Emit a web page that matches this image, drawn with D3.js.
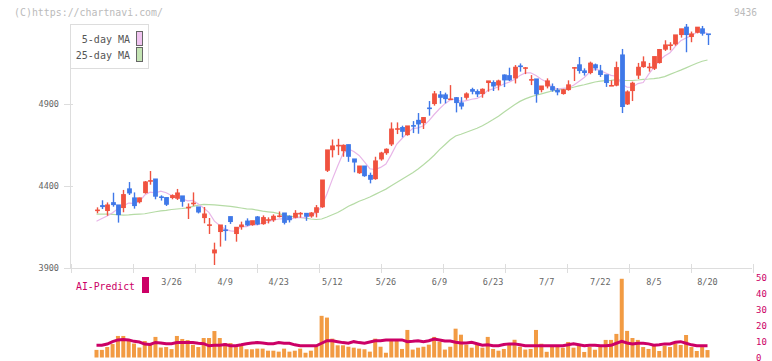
<!DOCTYPE html>
<html>
<head>
<meta charset="utf-8">
<script src="https://cdn.jsdelivr.net/npm/d3@7"></script>
<style>
body { margin: 0; background: #fff; }
svg { display: block; }
text { font-family: "DejaVu Sans Mono", monospace; }
</style>
</head>
<body>
<div id="chart"></div>
<script>
// daily candles (oldest first)
var opens = [4252,4281,4245,4299,4285,4263,4383,4328,4299,4354,4423,4443,4334,4330,4324,4320,4340,4269,4292,4273,
  4202,4162,3987,4117,4133,4214,4105,4147,4187,4159,4212,4165,4187,4189,4216,4236,4216,4204,4232,4234,
  4212,4234,4268,4490,4615,4646,4609,4652,4565,4475,4522,4465,4439,4559,4597,4650,4745,4756,4707,4768,
  4800,4780,4875,4896,4955,4955,4928,4938,4906,4934,4987,4975,4957,5024,5030,5009,5076,5072,5052,5131,
  5118,5040,5052,4981,5003,5005,4983,4957,4981,5119,5138,5101,5085,5138,5101,5077,5011,5008,5198,4894,
  4975,5069,5121,5122,5111,5146,5227,5257,5259,5316,5367,5304,5330,5357,5326];
var highs = [4271,4314,4301,4360,4285,4377,4425,4362,4330,4431,4492,4443,4344,4330,4350,4383,4340,4295,4362,4273,
  4273,4206,4056,4163,4163,4214,4149,4184,4204,4189,4218,4222,4210,4228,4246,4236,4222,4254,4242,4234,
  4242,4285,4437,4620,4684,4688,4654,4652,4565,4522,4522,4482,4579,4609,4630,4788,4788,4768,4766,4796,
  4845,4821,4918,4979,4979,4969,5015,4942,4942,4971,4999,4989,4995,5040,5044,5048,5080,5121,5137,5147,
  5125,5076,5052,5009,5056,5025,4997,4992,5044,5125,5186,5117,5158,5146,5138,5077,5044,5158,5235,4983,
  5036,5150,5190,5150,5188,5235,5288,5276,5320,5357,5387,5341,5367,5375,5326];
var lows = [4235,4261,4220,4275,4178,4241,4346,4263,4295,4354,4409,4320,4312,4279,4320,4316,4275,4200,4280,4234,
  4174,4109,3920,4032,4068,4170,4062,4135,4157,4159,4163,4165,4173,4183,4210,4167,4179,4204,4208,4189,
  4208,4210,4268,4486,4575,4589,4579,4548,4484,4475,4457,4417,4439,4555,4591,4644,4717,4697,4707,4723,
  4719,4748,4829,4890,4902,4904,4926,4849,4867,4926,4959,4942,4938,4975,4979,4983,5003,5040,5025,5097,
  5082,5015,4908,4971,4995,4975,4953,4957,4981,5040,5085,5073,5081,5103,5065,5004,5011,5008,4845,4894,
  4918,5052,5121,5097,5107,5146,5223,5227,5255,5304,5215,5276,5330,5316,5259];
var closes = [4254,4269,4285,4281,4220,4348,4352,4275,4328,4425,4433,4332,4326,4283,4342,4358,4301,4271,4296,4236,
  4230,4164,4011,4163,4123,4178,4149,4163,4157,4189,4163,4208,4195,4216,4218,4173,4189,4234,4234,4210,
  4236,4268,4437,4620,4644,4648,4648,4575,4540,4522,4457,4435,4553,4601,4624,4747,4749,4727,4766,4760,
  4772,4817,4871,4961,4934,4926,4930,4902,4881,4961,4971,4955,4989,5040,5003,5040,5040,5040,5123,5121,
  5120,5048,4955,5009,5040,4979,4967,4986,5016,5121,5097,5085,5148,5113,5073,5024,5012,5121,4878,4973,
  5026,5123,5156,5124,5188,5231,5259,5259,5320,5357,5316,5326,5367,5324,5316];
var ma5 = [4186,4203,4218,4238,4262,4281,4297,4295,4305,4346,4363,4359,4369,4360,4343,4328,4322,4311,4314,4292,
  4267,4239,4187,4161,4138,4128,4125,4155,4154,4167,4164,4176,4182,4194,4200,4202,4198,4206,4210,4208,
  4221,4236,4277,4354,4441,4523,4599,4627,4611,4587,4548,4506,4501,4514,4534,4592,4655,4690,4723,4750,
  4755,4768,4797,4836,4871,4902,4924,4931,4915,4920,4929,4934,4951,4983,4992,5005,5022,5033,5049,5073,
  5089,5090,5073,5051,5034,5006,4990,4996,4998,5014,5037,5061,5093,5113,5103,5089,5074,5069,5022,5002,
  5002,5024,5031,5080,5123,5164,5192,5212,5251,5285,5302,5316,5337,5338,5330];
var ma25 = [4230,4230,4230,4228,4226,4224,4225,4228,4230,4232,4238,4244,4249,4253,4258,4261,4264,4268,4277,4285,
  4289,4288,4286,4283,4280,4277,4272,4267,4262,4260,4254,4248,4244,4240,4233,4224,4218,4213,4210,4205,
  4200,4197,4200,4212,4226,4240,4258,4278,4292,4308,4320,4334,4350,4366,4382,4402,4422,4442,4462,4482,
  4505,4530,4558,4588,4622,4652,4682,4705,4716,4728,4740,4752,4768,4786,4805,4826,4850,4872,4895,4916,
  4931,4943,4953,4962,4971,4979,4985,4990,4994,5002,5010,5017,5026,5034,5039,5042,5044,5048,5044,5043,
  5043,5046,5050,5052,5055,5059,5067,5080,5093,5106,5120,5134,5148,5160,5168];
var volume = [4.8,4.8,6.6,8.5,13.6,13.6,11.7,8.8,6.3,10.4,8.8,13.0,6.3,6.6,5.3,13.6,11.7,11.0,8.0,6.6,
  12.3,12.3,16.7,12.3,9.1,9.1,6.6,7.5,5.2,5.2,5.6,5.6,4.3,4.3,3.7,5.6,3.7,4.3,5.6,3.0,
  4.3,7.7,26.3,25.2,11.9,7.7,7.7,6.8,6.2,5.6,5.2,3.7,11.9,6.8,3.0,10.6,10.6,5.4,17.4,5.0,
  6.2,6.8,8.1,13.0,10.0,5.0,6.8,18.2,14.4,8.1,6.2,8.1,6.2,13.0,5.4,4.3,5.4,8.1,11.2,6.8,
  5.0,5.4,17.4,8.7,3.6,6.8,7.7,6.2,9.8,6.2,7.9,3.5,6.6,4.9,6.6,11.1,11.1,14.9,49.7,16.8,
  12.3,11.1,6.6,5.4,7.5,4.1,7.5,6.6,8.8,7.9,14.2,6.6,4.1,6.6,4.7];
var aiPredict = [7.7,7.7,8.5,10.0,11.1,11.4,11.1,10.2,9.8,8.5,8.2,9.5,9.2,8.7,8.7,9.4,9.4,9.4,9.4,9.0,
  8.7,7.4,7.7,7.7,8.2,7.4,7.4,8.0,8.7,9.2,9.4,9.2,8.7,8.7,9.4,9.0,9.0,8.0,7.4,7.4,
  7.4,7.4,9.0,10.6,10.6,10.0,9.4,9.0,10.0,9.4,9.0,9.8,10.6,10.6,11.1,11.1,11.1,11.1,10.0,10.2,
  10.6,10.0,10.6,11.7,11.1,10.4,10.4,9.6,9.2,9.2,9.6,8.7,7.7,8.0,7.4,7.4,8.2,8.6,8.6,8.0,
  7.4,7.4,7.4,7.4,7.4,7.4,7.4,7.4,8.0,8.6,8.0,7.4,7.7,7.7,7.4,7.4,7.7,9.0,10.2,9.2,
  8.6,9.0,9.0,8.6,7.7,8.0,8.6,8.6,9.6,10.0,9.0,8.0,7.4,7.4,7.4];
var dateLabels = ["3/26","4/9","4/23","5/12","5/26","6/9","6/23","7/7","7/22","8/5","8/20"];
var priceTicks = [3900, 4400, 4900];
var volTicks = [0, 10, 20, 30, 40, 50];

var width = 772, height = 361;
var n = closes.length;
var UP = "#f0523f", DOWN = "#3f78e8";

var svg = d3.select("#chart").append("svg")
  .attr("width", width)
  .attr("height", height);

var x = d3.scaleLinear().domain([0, n - 1]).range([96.5, 707.5]);
var y = d3.scaleLinear().domain([3900, 4900]).range([268.3, 104]);
var yv = d3.scaleLinear().domain([0, 50]).range([357.5, 278.3]);

// header texts
svg.append("text").attr("x", 14).attr("y", 16)
  .attr("font-size", 11).attr("fill", "#bbb")
  .attr("textLength", 149).attr("lengthAdjust", "spacingAndGlyphs")
  .text("(C)https://chartnavi.com/");
svg.append("text").attr("x", 757).attr("y", 16)
  .attr("font-size", 11).attr("fill", "#bbb").attr("text-anchor", "end")
  .attr("textLength", 23).attr("lengthAdjust", "spacingAndGlyphs")
  .text("9436");

// frame: left axis + bottom axis
svg.append("line").attr("x1", 70.5).attr("x2", 70.5).attr("y1", 24).attr("y2", 268.5)
  .attr("stroke", "#ddd");
svg.append("line").attr("x1", 64).attr("x2", 752).attr("y1", 268.5).attr("y2", 268.5)
  .attr("stroke", "#ddd");

// bottom ticks, evenly spread
var tickScale = d3.scaleLinear().domain([0, 11]).range([70.5, 752.5]);
svg.selectAll(".xtick").data(d3.range(12)).enter().append("line")
  .attr("class", "xtick")
  .attr("x1", function(d) { return Math.round(tickScale(d)) + 0.5; })
  .attr("x2", function(d) { return Math.round(tickScale(d)) + 0.5; })
  .attr("y1", 264).attr("y2", 273)
  .attr("stroke", "#ddd");

// price ticks
svg.selectAll(".ytick").data(priceTicks).enter().append("line")
  .attr("x1", 64).attr("x2", 73)
  .attr("y1", function(d) { return Math.round(y(d)) + 0.5; })
  .attr("y2", function(d) { return Math.round(y(d)) + 0.5; })
  .attr("stroke", "#ddd");
svg.selectAll(".ylab").data(priceTicks).enter().append("text")
  .attr("x", 59).attr("y", function(d) { return y(d) + 3; })
  .attr("text-anchor", "end").attr("font-size", 8.5).attr("fill", "#666")
  .text(function(d) { return d; });

// date labels every 10 sessions, last one on last candle
svg.selectAll(".xlab").data(dateLabels).enter().append("text")
  .attr("x", function(d, i) { return x(n - 1 - (dateLabels.length - 1 - i) * 10); })
  .attr("y", 285)
  .attr("text-anchor", "middle").attr("font-size", 8.5).attr("fill", "#666")
  .text(function(d) { return d; });

// legend
var lg = svg.append("g");
lg.append("rect").attr("x", 70.5).attr("y", 24.5).attr("width", 78).attr("height", 44)
  .attr("fill", "#fff").attr("stroke", "#ddd");
var legendItems = [["5-day MA", "#f0c4f0"], ["25-day MA", "#c4e4b4"]];
legendItems.forEach(function(item, i) {
  lg.append("text").attr("x", 130).attr("y", 43 + i * 16)
    .attr("text-anchor", "end").attr("font-size", 10).attr("fill", "#555")
    .text(item[0]);
  lg.append("rect").attr("x", 136.5).attr("y", 31.5 + i * 16).attr("width", 6).attr("height", 14)
    .attr("fill", item[1]).attr("stroke", "#666");
});

// moving averages
var maLine = function(arr) {
  return d3.line().x(function(d, i) { return x(i); }).y(function(d) { return y(d); })(arr);
};
svg.append("path").attr("d", maLine(ma25)).attr("fill", "none")
  .attr("stroke", "#b5dba5").attr("stroke-width", 1.2);
svg.append("path").attr("d", maLine(ma5)).attr("fill", "none")
  .attr("stroke", "#e8b6e8").attr("stroke-width", 1.2);

// candles
var idx = d3.range(n);
var cg = svg.append("g");
cg.selectAll(".wick").data(idx).enter().append("line")
  .attr("x1", function(i) { return Math.round(x(i)) + 0.5; })
  .attr("x2", function(i) { return Math.round(x(i)) + 0.5; })
  .attr("y1", function(i) { return y(highs[i]); })
  .attr("y2", function(i) { return y(lows[i]); })
  .attr("stroke", function(i) { return closes[i] >= opens[i] ? UP : DOWN; })
  .attr("stroke-width", 1.4);
cg.selectAll(".body").data(idx).enter().append("rect")
  .attr("x", function(i) { return Math.round(x(i)) + 0.5 - 2.4; })
  .attr("width", 4.8)
  .attr("y", function(i) { return Math.min(y(opens[i]), y(closes[i])) - 0.6; })
  .attr("height", function(i) { return Math.max(1.6, Math.abs(y(opens[i]) - y(closes[i]))); })
  .attr("fill", function(i) { return closes[i] >= opens[i] ? UP : DOWN; });

// lower panel: volume + AI predict
svg.append("text").attr("x", 76).attr("y", 289.5)
  .attr("font-size", 10).attr("fill", "#cc0066")
  .attr("textLength", 59).attr("lengthAdjust", "spacingAndGlyphs")
  .text("AI-Predict");
svg.append("rect").attr("x", 142).attr("y", 277).attr("width", 7).attr("height", 16)
  .attr("fill", "#cc0066");

svg.selectAll(".vol").data(volume).enter().append("rect")
  .attr("x", function(d, i) { return x(i) - 2; })
  .attr("width", 4)
  .attr("y", function(d) { return yv(d); })
  .attr("height", function(d) { return yv(0) - yv(d); })
  .attr("fill", "#f29b43");

svg.append("path")
  .attr("d", d3.line().x(function(d, i) { return x(i); }).y(function(d) { return yv(d); })(aiPredict))
  .attr("fill", "none").attr("stroke", "#cc0066").attr("stroke-width", 3);

svg.selectAll(".vlab").data(volTicks).enter().append("text")
  .attr("x", 756).attr("y", function(d) { return yv(d) + 3; })
  .attr("font-size", 9).attr("fill", "#cc0066")
  .text(function(d) { return d; });
</script>
</body>
</html>
